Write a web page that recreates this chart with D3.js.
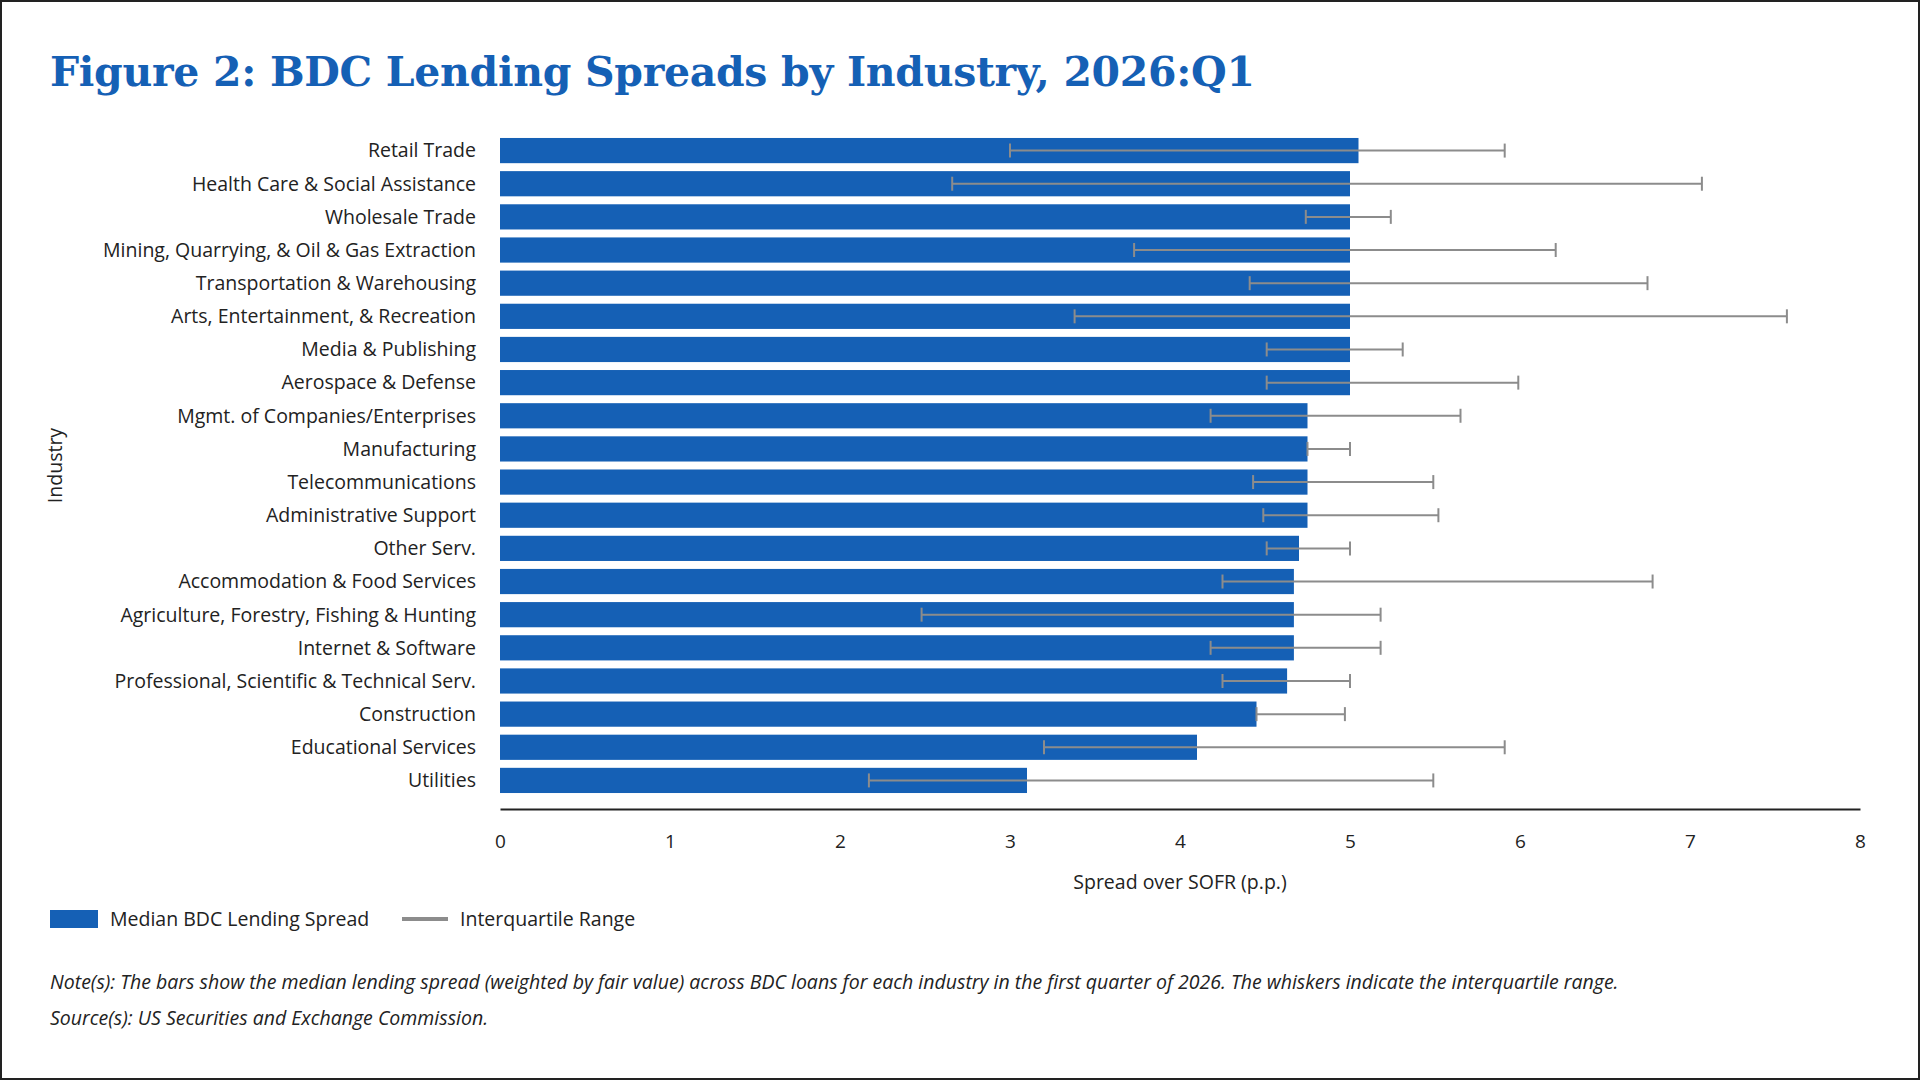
<!DOCTYPE html>
<html><head><meta charset="utf-8">
<script src="https://cdn.jsdelivr.net/npm/d3@7"></script>
<style>
body{margin:0;background:#fff;font-family:"Open Sans",sans-serif;}
svg{display:block}
</style></head><body>
<svg id="chart" width="1920" height="1080"></svg>
<script>
// data
var industries = ["Retail Trade","Health Care & Social Assistance","Wholesale Trade","Mining, Quarrying, & Oil & Gas Extraction","Transportation & Warehousing","Arts, Entertainment, & Recreation","Media & Publishing","Aerospace & Defense","Mgmt. of Companies/Enterprises","Manufacturing","Telecommunications","Administrative Support","Other Serv.","Accommodation & Food Services","Agriculture, Forestry, Fishing & Hunting","Internet & Software","Professional, Scientific & Technical Serv.","Construction","Educational Services","Utilities"];
var median = [5.05,5.0,5.0,5.0,5.0,5.0,5.0,5.0,4.75,4.75,4.75,4.75,4.70,4.67,4.67,4.67,4.63,4.45,4.10,3.10];
var q1 = [3.0,2.66,4.74,3.73,4.41,3.38,4.51,4.51,4.18,4.75,4.43,4.49,4.51,4.25,2.48,4.18,4.25,4.45,3.20,2.17];
var q3 = [5.91,7.07,5.24,6.21,6.75,7.57,5.31,5.99,5.65,5.0,5.49,5.52,5.0,6.78,5.18,5.18,5.0,4.97,5.91,5.49];
var xTicks = [0,1,2,3,4,5,6,7,8];

var blue = "#1560b5", grey = "#8c8c8c";
var svg = d3.select("#chart");
svg.append("rect").attr("x",1).attr("y",1).attr("width",1918).attr("height",1078)
  .attr("fill","#fff").attr("stroke","#222").attr("stroke-width",2);

svg.append("text").attr("x",50).attr("y",86)
  .attr("font-family","'DejaVu Serif',serif").attr("font-weight","bold")
  .attr("font-size",41).attr("fill",blue).attr("textLength",1205)
  .text("Figure 2: BDC Lending Spreads by Industry, 2026:Q1");

var plotL = 500, plotR = 1860, plotT = 134, plotB = 797;
var x = d3.scaleLinear().domain([0,8]).range([plotL,plotR]);
var y = d3.scaleBand().domain(industries).range([plotT,plotB]).paddingInner(0.24).paddingOuter(0.12);

var g = svg.append("g");
g.selectAll("rect.bar").data(industries).join("rect")
  .attr("x",x(0)).attr("y",d=>y(d)).attr("height",y.bandwidth())
  .attr("width",(d,i)=>x(median[i])-x(0)).attr("fill",blue);

var wh = g.selectAll("g.wh").data(industries).join("g")
  .attr("transform",d=>"translate(0,"+(y(d)+y.bandwidth()/2)+")")
  .attr("stroke",grey).attr("stroke-width",2);
wh.append("line").attr("x1",(d,i)=>x(q1[i])).attr("x2",(d,i)=>x(q3[i]));
wh.append("line").attr("x1",(d,i)=>x(q1[i])).attr("x2",(d,i)=>x(q1[i])).attr("y1",-7).attr("y2",7);
wh.append("line").attr("x1",(d,i)=>x(q3[i])).attr("x2",(d,i)=>x(q3[i])).attr("y1",-7).attr("y2",7);

g.selectAll("text.lab").data(industries).join("text")
  .attr("x",plotL-24).attr("y",d=>y(d)+y.bandwidth()/2).attr("dy","0.35em")
  .attr("text-anchor","end").attr("font-size",19.5).attr("fill","#222").text(d=>d);

var ax = svg.append("g").attr("transform","translate(0,809)")
  .call(d3.axisBottom(x).tickValues(xTicks).tickSize(0).tickPadding(26));
ax.select(".domain").attr("stroke","#222").attr("stroke-width",2);
ax.selectAll("text").attr("font-size",19).attr("fill","#222").attr("font-family","'Open Sans',sans-serif");

svg.append("text").attr("x",x(4)).attr("y",889).attr("text-anchor","middle")
  .attr("font-size",19.5).attr("fill","#222").text("Spread over SOFR (p.p.)");
svg.append("text").attr("transform","translate(62,"+((plotT+plotB)/2)+") rotate(-90)")
  .attr("text-anchor","middle").attr("font-size",19.5).attr("fill","#222").text("Industry");

// legend
svg.append("rect").attr("x",50).attr("y",910).attr("width",48).attr("height",18).attr("fill",blue);
svg.append("text").attr("x",110).attr("y",926).attr("font-size",19.5).attr("fill","#222").text("Median BDC Lending Spread");
svg.append("line").attr("x1",402).attr("x2",448).attr("y1",919).attr("y2",919).attr("stroke",grey).attr("stroke-width",4);
svg.append("text").attr("x",460).attr("y",926).attr("font-size",19.5).attr("fill","#222").text("Interquartile Range");

svg.append("text").attr("x",50).attr("y",989).attr("font-size",19.5).attr("font-style","italic").attr("fill","#222")
  .text("Note(s): The bars show the median lending spread (weighted by fair value) across BDC loans for each industry in the first quarter of 2026. The whiskers indicate the interquartile range.");
svg.append("text").attr("x",50).attr("y",1025).attr("font-size",19.5).attr("font-style","italic").attr("fill","#222")
  .text("Source(s): US Securities and Exchange Commission.");
</script></body></html>
